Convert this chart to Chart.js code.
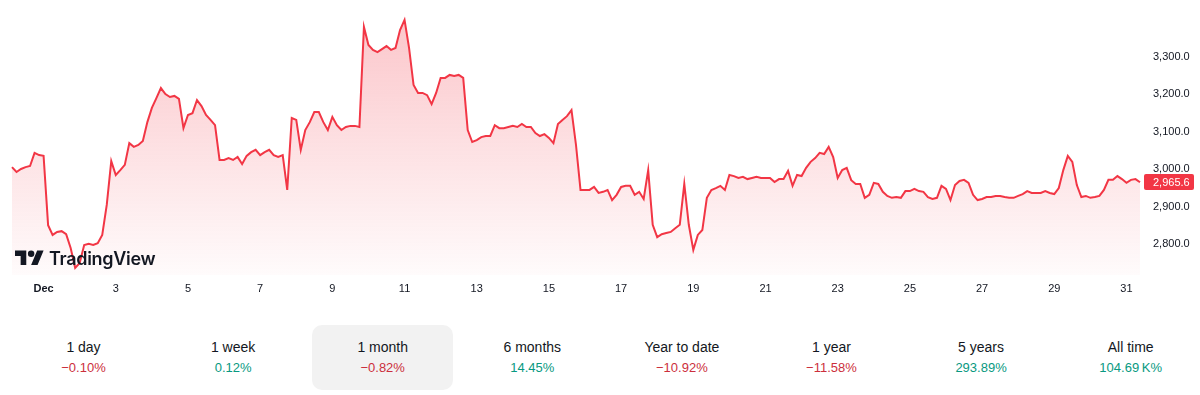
<!DOCTYPE html>
<html>
<head>
<meta charset="utf-8">
<script src="https://cdn.jsdelivr.net/npm/chart.js@4.4.0/dist/chart.umd.min.js"></script>
<style>
  body { margin: 0; background: #fff; font-family: "Liberation Sans", Arial, sans-serif; }
  #wrap { position: relative; width: 1200px; height: 395px; overflow: hidden; }
  #chart { position: absolute; left: 0; top: 0; }
  #logo { position: absolute; left: 15px; top: 247px; display: flex; align-items: center; color: #131722; }
  #logo span { font-family: Inter, "Liberation Sans", sans-serif; font-weight: 600; font-size: 18px; margin-left: 5px; letter-spacing: -0.3px; }
  #periods { position: absolute; left: 13px; top: 325px; display: grid; grid-template-columns: repeat(8, 141px); column-gap: 8.6px; }
  .period { height: 65px; border-radius: 10px; text-align: center; box-sizing: border-box; padding-top: 12px; }
  .period.active { background: #f2f2f2; }
  .period .name { font-size: 14px; line-height: 20px; color: #131722; }
  .period .chg { font-size: 13px; line-height: 22px; }
</style>
</head>
<body>
<div id="wrap">
  <canvas id="chart" width="1200" height="300"></canvas>
  <div id="logo">
    <svg width="29" height="23" viewBox="0 0 36 28"><path fill="#131722" d="M14 22H7V11H0V4h14v18zM28 22h-8l7.5-18h8L28 22z"/><circle fill="#131722" cx="20" cy="8" r="4"/></svg>
    <span>TradingView</span>
  </div>
  <div id="periods"></div>
</div>
<script>
// 3-hourly closes, first point Nov 30 03:00
const startDay = -0.875;
const stepDay = 0.125;
const prices = [
  3006, 2993, 3001, 3006, 3009, 3044, 3038,
  3036, 2851, 2825, 2833, 2835, 2827, 2790, 2737,
  2750, 2798, 2801, 2798, 2803, 2825, 2905, 3022,
  2985, 2998, 3012, 3070, 3060, 3065, 3076, 3126,
  3164, 3190, 3217, 3201, 3193, 3196, 3188, 3110,
  3145, 3150, 3185, 3169, 3145, 3132, 3118, 3025,
  3025, 3030, 3025, 3033, 3014, 3036, 3046, 3052,
  3038, 3046, 3052, 3038, 3033, 3038, 2945, 3137,
  3132, 3052, 3105, 3126, 3153, 3153, 3126, 3105,
  3140, 3118, 3105, 3113, 3116, 3116, 3113, 3380,
  3332, 3319, 3313, 3321, 3329, 3319, 3324, 3372,
  3399, 3324, 3225, 3204, 3204, 3198, 3174, 3204,
  3244, 3244, 3252, 3249, 3252, 3244, 3105, 3073,
  3078, 3086, 3089, 3089, 3118, 3110, 3110, 3113,
  3116, 3113, 3121, 3113, 3113, 3097, 3089, 3094,
  3084, 3070, 3121, 3132, 3142, 3158, 3065, 2945,
  2945, 2945, 2953, 2937, 2940, 2945, 2918, 2932,
  2953, 2956, 2956, 2932, 2940, 2921, 2998, 2852,
  2819, 2827, 2830, 2833, 2843, 2852, 2961, 2852,
  2785, 2825, 2838, 2924, 2945, 2950, 2956, 2945,
  2985, 2982, 2977, 2980, 2974, 2977, 2980, 2977,
  2977, 2977, 2966, 2974, 2974, 2996, 2956, 2985,
  2982, 3004, 3020, 3030, 3044, 3041, 3060, 3033,
  2977, 2998, 3004, 2971, 2961, 2961, 2924, 2932,
  2964, 2961, 2940, 2929, 2924, 2926, 2924, 2942,
  2942, 2948, 2942, 2940, 2926, 2921, 2924, 2956,
  2948, 2918, 2958, 2969, 2972, 2964, 2932, 2918,
  2921, 2926, 2926, 2929, 2929, 2926, 2924, 2924,
  2929, 2934, 2942, 2937, 2937, 2937, 2942, 2937,
  2934, 2950, 2998, 3036, 3020, 2958, 2926, 2929,
  2924, 2926, 2929, 2945, 2972, 2972, 2982, 2974,
  2964, 2972, 2974, 2965.6
];
const times = prices.map((_, i) => startDay + i * stepDay);

const xTicks = [0, 2, 4, 6, 8, 10, 12, 14, 16, 18, 20, 22, 24, 26, 28, 30];
const xTickLabels = ['Dec', '3', '5', '7', '9', '11', '13', '15', '17', '19', '21', '23', '25', '27', '29', '31'];
const yTicks = [2800, 2900, 3000, 3100, 3200, 3300];
const lastPrice = 2965.6;

const periodNames = ['1 day', '1 week', '1 month', '6 months', 'Year to date', '1 year', '5 years', 'All time'];
const periodChanges = ['−0.10%', '0.12%', '−0.82%', '14.45%', '−10.92%', '−11.58%', '293.89%', '104.69\u202FK%'];
const activePeriod = '1 month';

const lineColor = '#F23645';
const axisFont = '11px "Liberation Sans", Arial, sans-serif';
const fmt = (v) => v.toLocaleString('en-US', { minimumFractionDigits: 1 });

const periodsEl = document.getElementById('periods');
periodNames.forEach((name, i) => {
  const cell = document.createElement('div');
  cell.className = 'period' + (name === activePeriod ? ' active' : '');
  const chg = periodChanges[i];
  const color = chg.startsWith('−') ? '#cc2f3c' : '#089981';
  cell.innerHTML = `<div class="name">${name}</div><div class="chg" style="color:${color}">${chg}</div>`;
  periodsEl.appendChild(cell);
});

// price labels on the right, placed with the y scale
const priceAxis = {
  id: 'priceAxis',
  afterDraw(chart) {
    const ctx = chart.ctx;
    const scale = chart.scales.y;
    ctx.save();
    ctx.font = axisFont;
    ctx.textBaseline = 'middle';
    ctx.textAlign = 'left';
    ctx.fillStyle = '#131722';
    yTicks.forEach(v => ctx.fillText(fmt(v), 1153, scale.getPixelForValue(v)));

    const y = Math.round(scale.getPixelForValue(lastPrice));
    ctx.fillStyle = lineColor;
    ctx.beginPath();
    ctx.roundRect(1144, y - 8, 50, 16, 2);
    ctx.fill();
    ctx.fillStyle = '#fff';
    ctx.fillText(fmt(lastPrice), 1153, y + 0.5);
    ctx.restore();
  }
};

const ctx = document.getElementById('chart').getContext('2d');

new Chart(ctx, {
  type: 'line',
  data: {
    datasets: [{
      data: times.map((t, i) => ({ x: t, y: prices[i] })),
      borderColor: lineColor,
      borderWidth: 2,
      pointRadius: 0,
      tension: 0,
      fill: 'start',
      clip: false,
      backgroundColor: (c) => {
        const area = c.chart.chartArea;
        if (!area) return 'rgba(242,54,69,0.15)';
        const g = c.chart.ctx.createLinearGradient(0, area.top, 0, area.bottom);
        g.addColorStop(0, 'rgba(242,54,69,0.30)');
        g.addColorStop(1, 'rgba(242,54,69,0.02)');
        return g;
      }
    }]
  },
  options: {
    responsive: false,
    animation: false,
    devicePixelRatio: 1,
    layout: { autoPadding: false, padding: { left: 12, top: 0, right: 0, bottom: 0 } },
    plugins: { legend: { display: false }, tooltip: { enabled: false } },
    scales: {
      x: {
        type: 'linear',
        min: startDay,
        max: 30.375,
        grid: { display: false, drawTicks: false },
        border: { display: false },
        afterBuildTicks: (axis) => { axis.ticks = xTicks.map(v => ({ value: v })); },
        afterFit: (axis) => { axis.height = 25; },
        ticks: {
          autoSkip: false,
          maxRotation: 0,
          padding: 7,
          color: '#131722',
          font: (c) => ({ family: '"Liberation Sans", Arial, sans-serif', size: 11, weight: c.tick && c.tick.value === 0 ? 'bold' : 'normal' }),
          callback: (v) => xTickLabels[xTicks.indexOf(v)]
        }
      },
      y: {
        position: 'right',
        min: 2718,
        max: 3452,
        grid: { display: false, drawTicks: false },
        border: { display: false },
        afterFit: (axis) => { axis.width = 60; },
        ticks: { display: false }
      }
    }
  },
  plugins: [priceAxis]
});
</script>
</body>
</html>
